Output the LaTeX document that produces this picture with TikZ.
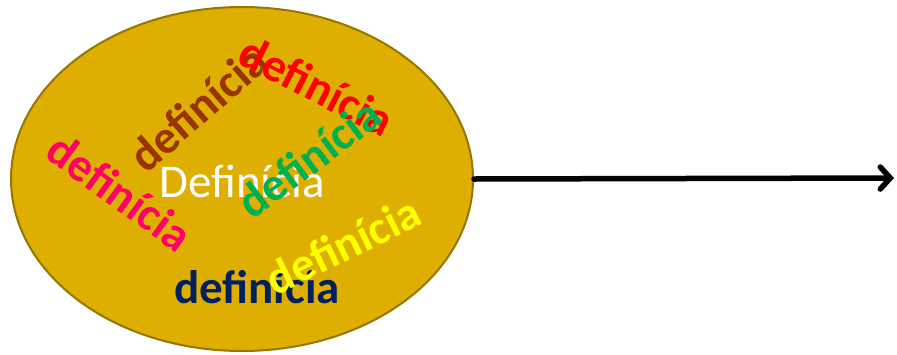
\documentclass[tikz,border=0pt]{standalone}
\usepackage{fontspec}
\setmainfont{Carlito}
\usetikzlibrary{shapes.geometric,arrows.meta}
\definecolor{gold}{RGB}{222,174,0}
\definecolor{goldline}{RGB}{150,118,0}
\definecolor{brownw}{RGB}{153,51,0}
\definecolor{pinkw}{RGB}{255,0,102}
\definecolor{greenw}{RGB}{0,176,80}
\definecolor{yelloww}{RGB}{255,255,0}
\definecolor{navyw}{RGB}{0,32,96}
\tikzset{
  word/.style={inner sep=0pt, font=\fontsize{47}{47}\selectfont\bfseries},
}
\begin{document}
\begin{tikzpicture}[x=1pt,y=-1pt]
\useasboundingbox (0,0) rectangle (897,354);
\node[ellipse, draw=goldline, line width=2pt, fill=gold, minimum width=462pt, minimum height=344pt, inner sep=0pt] (e) at (242,179) {};
\node[inner sep=0pt, text=white, font=\fontsize{47}{47}\selectfont] (main) at (242,181) {Definícia};
\node[word, text=pinkw, rotate=-36] (pink) at (120,192) {definícia};
\node[word, text=brownw, rotate=41] (brown) at (198,108) {definícia};
\node[word, text=red, rotate=-27] (red) at (317,86) {definícia};
\node[word, text=greenw, rotate=37] (green) at (309,158) {definícia};
\node[word, text=navyw] (navy) at (257,287) {definícia};
\node[word, text=yelloww, rotate=26] (yellow) at (343,245) {definícia};
\coordinate (end) at (894,178);
\draw[line width=5.5pt, line cap=round, -{Straight Barb[length=10pt,width=22pt,line cap=round]}] (e.east) -- (end);
\end{tikzpicture}
\end{document}
